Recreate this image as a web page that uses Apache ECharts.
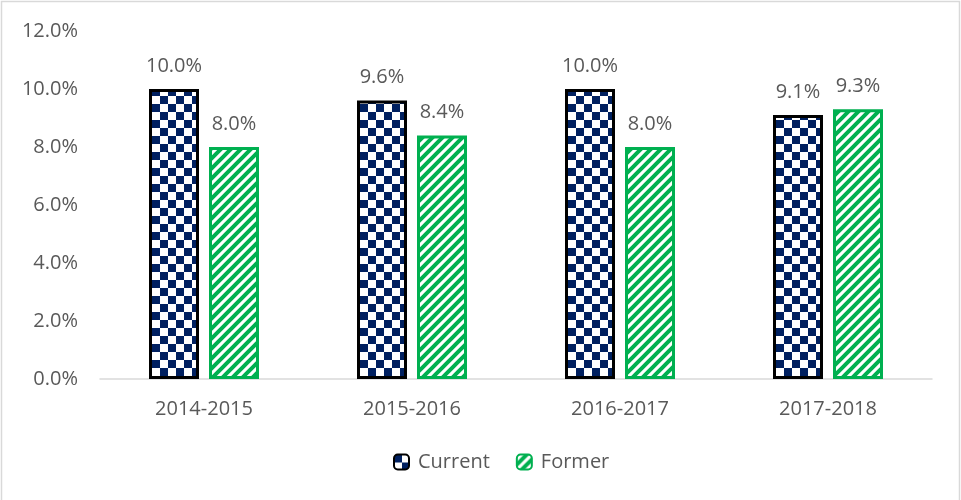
<!DOCTYPE html>
<html>
<head>
<meta charset="utf-8">
<script src="https://cdn.jsdelivr.net/npm/echarts@6/dist/echarts.min.js"></script>
<style>
  html, body { margin: 0; padding: 0; background: #fff; }
  #chart { width: 961px; height: 500px; }
</style>
</head>
<body>
<div id="chart"></div>
<script>
// data
var categories = ['2014-2015', '2015-2016', '2016-2017', '2017-2018']
var currentValues = [10.0, 9.6, 10.0, 9.1]
var formerValues = [8.0, 8.4, 8.0, 9.3]

// checker pattern for Current
function checkerPattern () {
  var c = document.createElement('canvas')
  c.width = 16
  c.height = 16
  var ctx = c.getContext('2d')
  ctx.fillStyle = '#fff'
  ctx.fillRect(0, 0, 16, 16)
  ctx.fillStyle = '#002060'
  ctx.fillRect(0, 0, 8, 8)
  ctx.fillRect(8, 8, 8, 8)
  return c
}

// diagonal stripes for Former
function stripePattern () {
  var s = 10
  var c = document.createElement('canvas')
  c.width = s
  c.height = s
  var ctx = c.getContext('2d')
  ctx.fillStyle = '#fff'
  ctx.fillRect(0, 0, s, s)
  ctx.strokeStyle = '#00B050'
  ctx.lineWidth = 4
  ctx.beginPath()
  ctx.moveTo(-s, s * 2)
  ctx.lineTo(s * 2, -s)
  ctx.moveTo(-s, s)
  ctx.lineTo(s, -s)
  ctx.moveTo(0, s * 2)
  ctx.lineTo(s * 2, 0)
  ctx.stroke()
  return c
}

var chart = echarts.init(document.getElementById('chart'))
var font = 'Open Sans, Noto Sans, sans-serif'
var labelStyle = {
  show: true,
  position: 'top',
  distance: 13,
  color: '#595959',
  fontSize: 20,
  fontFamily: font,
  formatter: function (p) { return p.value.toFixed(1) + '%' }
}

var option = {
  animation: false,
  backgroundColor: '#fff',
  graphic: [{
    type: 'rect',
    shape: { x: 1.5, y: 1.5, width: 958, height: 510 },
    style: { fill: 'none', stroke: '#d9d9d9', lineWidth: 1.5 },
    silent: true
  }],
  grid: { left: 100, right: 29, top: 31, bottom: 121 },
  legend: {
    bottom: 23,
    left: 388,
    itemWidth: 15,
    itemHeight: 15,
    itemGap: 26,
    textStyle: { color: '#595959', fontSize: 20, fontFamily: font, padding: [0, 0, 0, 4] },
    data: ['Current', 'Former']
  },
  xAxis: {
    type: 'category',
    data: categories,
    axisLine: { lineStyle: { color: '#d9d9d9', width: 1.5 } },
    axisTick: { show: false },
    axisLabel: { color: '#595959', fontSize: 20, fontFamily: font, margin: 20 }
  },
  yAxis: {
    type: 'value',
    min: 0,
    max: 12,
    interval: 2,
    axisLine: { show: false },
    axisTick: { show: false },
    splitLine: { show: false },
    axisLabel: {
      color: '#595959',
      fontSize: 20,
      fontFamily: font,
      margin: 22,
      formatter: function (v) { return v.toFixed(1) + '%' }
    }
  },
  series: [
    {
      name: 'Current',
      type: 'bar',
      data: currentValues,
      barWidth: 50,
      barGap: '20%',
      itemStyle: {
        color: { image: checkerPattern(), repeat: 'repeat' },
        borderColor: '#000',
        borderWidth: 3
      },
      label: labelStyle
    },
    {
      name: 'Former',
      type: 'bar',
      data: formerValues,
      barWidth: 50,
      itemStyle: {
        color: { image: stripePattern(), repeat: 'repeat' },
        borderColor: '#00B050',
        borderWidth: 3
      },
      label: labelStyle
    }
  ]
}
chart.setOption(option)
</script>
</body>
</html>
